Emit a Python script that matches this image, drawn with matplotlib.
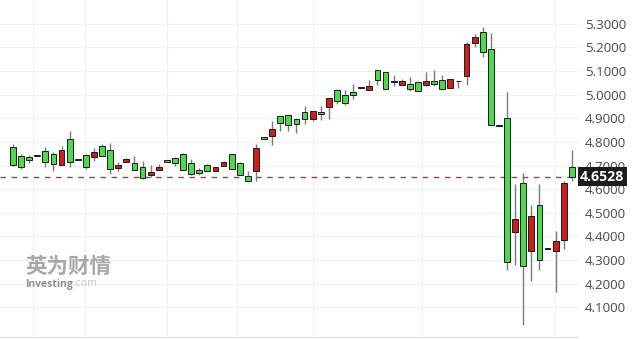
import matplotlib
matplotlib.use("Agg")
import matplotlib.pyplot as plt
import numpy as np

# OHLC data (red = up, green = down)
opens = [4.778, 4.740, 4.736, 4.740, 4.761, 4.748, 4.702, 4.812, 4.723, 4.744,
         4.736, 4.782, 4.765, 4.690, 4.715, 4.711, 4.694, 4.660, 4.681, 4.723,
         4.732, 4.748, 4.711, 4.681, 4.702, 4.677, 4.698, 4.748, 4.711, 4.656,
         4.677, 4.820, 4.824, 4.908, 4.913, 4.896, 4.925, 4.896, 4.925, 4.946,
         5.018, 4.997, 5.010, 5.030, 5.018, 5.106, 5.098, 5.060, 5.043, 5.047,
         5.052, 5.039, 5.056, 5.064, 5.030, 5.056, 5.081, 5.220, 5.266, 5.195,
         4.866, 4.900, 4.420, 4.626, 4.340, 4.534, 4.348, 4.336, 4.386, 4.694]
highs = [4.790, 4.748, 4.744, 4.741, 4.778, 4.757, 4.782, 4.845, 4.724, 4.748,
         4.774, 4.790, 4.795, 4.715, 4.732, 4.740, 4.719, 4.702, 4.706, 4.723,
         4.736, 4.753, 4.727, 4.690, 4.706, 4.694, 4.719, 4.748, 4.715, 4.677,
         4.790, 4.820, 4.887, 4.908, 4.913, 4.896, 4.951, 4.930, 4.951, 4.988,
         5.026, 5.018, 5.047, 5.031, 5.064, 5.106, 5.098, 5.085, 5.068, 5.077,
         5.056, 5.094, 5.106, 5.085, 5.068, 5.057, 5.224, 5.258, 5.287, 5.262,
         4.872, 5.010, 4.622, 4.668, 4.534, 4.622, 4.349, 4.424, 4.635, 4.765]
lows = [4.698, 4.685, 4.711, 4.739, 4.694, 4.677, 4.702, 4.694, 4.722, 4.685,
        4.719, 4.740, 4.664, 4.677, 4.715, 4.681, 4.643, 4.652, 4.681, 4.715,
        4.698, 4.681, 4.660, 4.660, 4.677, 4.677, 4.698, 4.685, 4.660, 4.635,
        4.635, 4.812, 4.786, 4.845, 4.845, 4.837, 4.875, 4.887, 4.892, 4.896,
        4.959, 4.955, 4.980, 5.029, 5.018, 5.043, 5.026, 5.035, 5.043, 5.014,
        5.014, 5.035, 5.035, 5.022, 5.030, 5.030, 5.039, 5.203, 5.161, 4.871,
        4.866, 4.256, 4.277, 4.024, 4.210, 4.256, 4.347, 4.163, 4.348, 4.635]
closes = [4.702, 4.694, 4.723, 4.740, 4.715, 4.706, 4.765, 4.715, 4.723, 4.694,
          4.757, 4.740, 4.685, 4.702, 4.727, 4.681, 4.647, 4.673, 4.694, 4.715,
          4.711, 4.681, 4.664, 4.668, 4.677, 4.694, 4.715, 4.685, 4.660, 4.635,
          4.774, 4.812, 4.854, 4.879, 4.871, 4.875, 4.896, 4.930, 4.917, 4.988,
          4.972, 4.963, 4.997, 5.030, 5.035, 5.064, 5.026, 5.052, 5.056, 5.026,
          5.014, 5.060, 5.047, 5.026, 5.068, 5.056, 5.216, 5.245, 5.182, 4.871,
          4.872, 4.290, 4.475, 4.273, 4.487, 4.302, 4.348, 4.382, 4.626, 4.6528]

last_price = 4.6528
ytick_vals = [4.1, 4.2, 4.3, 4.4, 4.5, 4.6, 4.7, 4.8, 4.9, 5.0, 5.1, 5.2, 5.3]
ytick_labels = ["4.1000", "4.2000", "4.3000", "4.4000", "4.5000", "4.6000", "4.7000",
                "4.8000", "4.9000", "5.0000", "5.1000", "5.2000", "5.3000"]
vgrid_idx = [2.5, 8.9, 19.0, 27.7, 37.0, 50.5, 66.9]

GREEN = "#4fd84f"
RED = "#c8201e"
EDGE = "#1c1c1c"
WICK = "#7a7a7a"

fig = plt.figure(figsize=(6.4, 3.39), dpi=100)
ax = fig.add_axes([0.0, 0.006, 0.903, 0.994])

x = np.arange(len(opens))
o = np.array(opens); h = np.array(highs); l = np.array(lows); c = np.array(closes)
up = c > o
colors = [RED if u else GREEN for u in up]
bottoms = np.minimum(o, c)
heights = np.maximum(np.abs(c - o), 0.003)

# grid
for v in ytick_vals:
    ax.axhline(v, color="#f1f1f1", lw=0.8, zorder=0)
for gx in vgrid_idx:
    ax.axvline(gx, color="#f1f1f1", lw=0.8, zorder=0)

ax.vlines(x, l, h, color=WICK, lw=1.0, zorder=2)
ax.bar(x, heights, bottom=bottoms, width=0.72, color=colors, edgecolor=EDGE,
       linewidth=0.7, zorder=3)

ax.axhline(last_price, color="#8a4b4b", lw=1.0, dashes=(4, 4), zorder=1)

ax.set_xlim(-1.6, 69.75)
ax.set_ylim(3.974, 5.401)

ax.yaxis.tick_right()
ax.set_yticks(ytick_vals)
ax.set_yticklabels(ytick_labels, fontsize=9.6, color="#4a4a4a", family="Open Sans")
ax.tick_params(axis="y", length=0, pad=5)
ax.set_xticks([])
for s in ["top", "left", "right"]:
    ax.spines[s].set_visible(False)
ax.spines["bottom"].set_color("#dddddd")
ax.spines["bottom"].set_linewidth(0.8)

# last price tag
ax.text(1.004, last_price, "4.6528", transform=ax.get_yaxis_transform(),
        ha="left", va="center", fontsize=10.2, color="white", family="Open Sans",
        fontweight="bold",
        bbox=dict(boxstyle="square,pad=0.18", fc="#1b1b1b", ec="none"),
        clip_on=False, zorder=5)

# watermark
fig.text(25 / 640, 1 - 266 / 339, "英为财情", fontsize=15.5, fontweight="bold",
         color="#a8a8a8", family=["Noto Sans CJK SC", "DejaVu Sans"], va="center", ha="left")
t_inv = fig.text(25 / 640, 1 - 284 / 339, "Investing", fontsize=7.5, fontweight="bold",
                 color="#8f8f8f", family="Open Sans", va="center", ha="left")
fig.add_artist(matplotlib.text.Annotation(
    ".com", xy=(1.0, 0.5), xycoords=t_inv, va="center", ha="left",
    fontsize=7.5, color="#c4c4c4", family="Open Sans"))

fig.savefig("out.png", dpi=100, facecolor="white")
